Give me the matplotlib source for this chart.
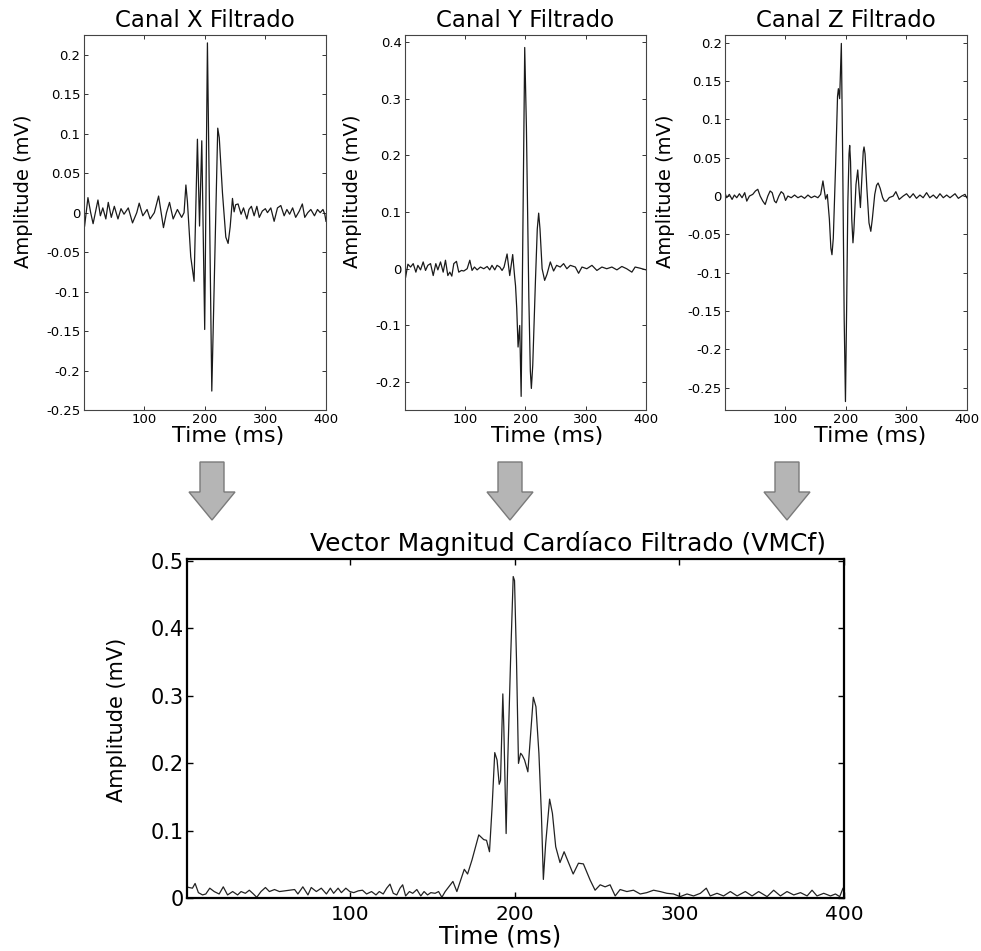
import matplotlib
matplotlib.use("Agg")
import matplotlib.pyplot as plt
import numpy as np
from matplotlib.patches import Polygon
from matplotlib.ticker import FuncFormatter, MultipleLocator

plt.rcParams["font.family"] = ["DejaVu Sans"]
plt.rcParams["axes.unicode_minus"] = False

CANAL_X = [
    (2, -0.017), (7.5, 0.019), (12, 0.0), (16, -0.014), (24, 0.016), (28, -0.004),
    (32, 0.006), (37, -0.008), (41, 0.013), (46, -0.006), (51, 0.008), (57, -0.008),
    (62, 0.005), (67, -0.002), (74, 0.006), (81, -0.013), (88, 0.0), (92, 0.012),
    (98, -0.004), (105, 0.004), (110, -0.008), (117, 0.0), (124, 0.021), (132, -0.019),
    (137, 0.0), (142, 0.013), (148, -0.008), (155, 0.004), (162, -0.006), (166, 0.0),
    (169, 0.035), (171.5, 0.014), (177, -0.056), (182.5, -0.087), (188, 0.093),
    (191.5, -0.017), (195.2, 0.091), (200, -0.148), (204.5, 0.215), (211.7, -0.226),
    (221.5, 0.107), (224, 0.095), (229.3, 0.025), (234.8, -0.031), (238.6, -0.039),
    (242, -0.018), (245.8, 0.018), (248.5, 0.001), (251, 0.01), (255, 0.011),
    (260, -0.002), (264, 0.006), (269.5, -0.008), (273, 0.004), (277, 0.008),
    (281.5, -0.004), (286, 0.008), (290, -0.006), (295, 0.002), (300, 0.005),
    (303.5, 0.0), (309, 0.006), (314.5, -0.011), (320, 0.006), (325.5, 0.009),
    (331, -0.004), (335.5, 0.004), (340, -0.002), (345, 0.006), (350, -0.006),
    (356, 0.002), (361, 0.011), (365, -0.006), (370, 0.0), (375, 0.004),
    (381, -0.004), (386, 0.004), (390.5, 0.0), (395, 0.004), (398, -0.002), (400, -0.011),
]

CANAL_Y = [
    (2, -0.015), (5.8, 0.008), (10.2, 0.003), (14.6, 0.009), (19, -0.006), (22.3, 0.006),
    (26.7, -0.002), (31.1, 0.012), (35, -0.003), (38.8, 0.006), (43.3, 0.009),
    (47.7, -0.012), (52, 0.009), (55.4, -0.002), (59.8, 0.012), (64.2, -0.006),
    (68, 0.015), (71.9, -0.012), (75.2, -0.006), (78.5, -0.013), (81.8, 0.009),
    (86.2, 0.013), (90, -0.006), (94.5, -0.003), (98.3, -0.004), (103.9, 0.0),
    (108.3, 0.015), (112, -0.003), (116, 0.003), (120.4, -0.002), (125.9, 0.003),
    (131.4, 0.0), (137, 0.004), (141.3, -0.002), (145, 0.006), (149.6, -0.002),
    (153.4, 0.006), (157.9, 0.003), (161.7, -0.003), (165, 0.003),
    (170, 0.026), (174.4, -0.012), (179.3, 0.025), (182.6, -0.015), (184, -0.03),
    (186, -0.07), (188.2, -0.138), (190.9, -0.1), (193.3, -0.225), (196, 0.05),
    (199.2, 0.39), (202, 0.25), (206, -0.05), (208.5, -0.18), (210.2, -0.211),
    (212.5, -0.17), (217, -0.02), (220, 0.07), (222.3, 0.098), (224.5, 0.07),
    (228, 0.0), (232.2, -0.0205), (236, -0.01), (241.6, 0.012), (247, -0.004),
    (252, 0.006), (258, 0.003), (263.6, 0.009), (269, 0.0), (274.7, 0.006),
    (283, 0.003), (288.4, -0.008), (294, 0.003), (302, 0.0), (310.5, 0.006),
    (318.7, -0.003), (327, 0.003), (335, 0.0), (343.5, 0.003), (351.8, -0.002),
    (360, 0.004), (368, 0.0), (376.6, -0.006), (382, 0.003), (390, 0.001), (400, -0.002),
]

CANAL_Z = [
    (1, 0.003), (3.3, -0.0022), (7.7, 0.0022), (12.2, -0.0044), (16, 0.0013),
    (19.9, -0.0022), (24.3, 0.003), (28.7, -0.0022), (33.1, 0.0044), (36.5, -0.0066),
    (40.9, 0.0), (46.4, 0.0022), (50.8, 0.0066), (54.7, 0.0088), (58.6, 0.0),
    (63, -0.0066), (66.9, -0.011), (71.3, 0.0), (75.1, 0.0066), (78.5, 0.0044),
    (82.3, -0.0066), (85.1, -0.0088), (89.5, 0.0), (93.4, 0.0057), (97.2, 0.003),
    (100.6, -0.0057), (104.4, 0.0), (110, -0.0022), (115.5, 0.0013), (121, -0.0022),
    (126.5, 0.0), (132, -0.003), (137.6, 0.0013), (143, -0.0022), (148.6, 0.0),
    (154, -0.0022), (158.6, 0.0022),
    (162.4, 0.0197), (166.8, -0.004), (169.6, 0.002), (173, -0.03), (175.5, -0.068),
    (177.3, -0.0765), (179.5, -0.055), (183.4, 0.042), (186.5, 0.13), (187.9, 0.14),
    (190, 0.127), (192.8, 0.199), (195, 0.05), (197.5, -0.16), (199.6, -0.268),
    (201.5, -0.15), (203.5, -0.01), (205.5, 0.055), (206.6, 0.066), (208, 0.045),
    (210, -0.03), (212, -0.061), (213.5, -0.045), (217, 0.015), (219.9, 0.034),
    (222, 0.01), (224.3, -0.015), (226.5, 0.02), (229, 0.058), (230.3, 0.064),
    (232, 0.055), (235, 0.01), (238.5, -0.035), (241.5, -0.046), (244, -0.03),
    (248, 0.002), (251, 0.014), (253.6, 0.017), (257, 0.01), (261, -0.002),
    (264, -0.0066), (267.4, -0.0066), (272, -0.002), (278.5, 0.0), (282.9, 0.0057),
    (288.4, -0.0044), (295, 0.0), (300.6, 0.003), (306, -0.0022), (311.6, 0.003),
    (317, -0.003), (322.7, 0.0013), (328, -0.0022), (333.7, 0.0044), (339, -0.0022),
    (344.8, 0.0013), (350.3, -0.003), (355.8, 0.003), (361.3, -0.0022), (366.9, 0.0013),
    (372.4, -0.0022), (380.7, 0.003), (386.2, -0.003), (391.7, 0.0), (397.2, 0.0022),
    (400, -0.0022),
]

# vector magnitude of the three filtered leads
VMCF = [
    (1, 0.017), (2.4, 0.016), (4.5, 0.015), (6.1, 0.022), (8.1, 0.0084), (10.6, 0.005),
    (12.6, 0.0064), (15, 0.015), (17.7, 0.01), (20.7, 0.0064), (23.2, 0.017),
    (25.8, 0.005), (28.9, 0.01), (31.9, 0.005), (34, 0.01), (36.6, 0.0074), (39, 0.012),
    (41.5, 0.0064), (43.5, 0.0015), (46.1, 0.01), (48.8, 0.016), (51.2, 0.01),
    (54.3, 0.013), (57.3, 0.01), (60.4, 0.011), (63.4, 0.012), (66.5, 0.013),
    (68.5, 0.0064), (71.5, 0.017), (74.6, 0.005), (76.6, 0.016), (79.7, 0.01),
    (82.7, 0.015), (85.8, 0.0064), (88.2, 0.015), (90.2, 0.0074), (92.9, 0.015),
    (94.9, 0.0084), (97.6, 0.015), (100, 0.01), (102.4, 0.0084), (105.1, 0.011),
    (107.7, 0.012), (110.2, 0.0064), (113.2, 0.01), (115.9, 0.005), (117.9, 0.01),
    (120.3, 0.0064), (122.4, 0.015), (124.4, 0.021), (126.4, 0.0074), (128.5, 0.005),
    (130.5, 0.015), (132.1, 0.02), (133.9, 0.0035), (136.2, 0.01), (138.2, 0.0074),
    (140.7, 0.013), (143.1, 0.0035), (145.1, 0.01), (147.2, 0.005), (149.2, 0.0084),
    (151.8, 0.0074), (153.9, 0.01), (155.9, 0.0015), (157.9, 0.01), (161, 0.02),
    (162.6, 0.025), (165, 0.01), (169.5, 0.043), (171.5, 0.036), (174.2, 0.057),
    (178.3, 0.094), (181.3, 0.087), (183, 0.086), (184.8, 0.069), (186.4, 0.136),
    (188, 0.216), (189.4, 0.205), (190.7, 0.169), (191.5, 0.175), (192.9, 0.303),
    (193.5, 0.254), (194.9, 0.096), (195.9, 0.205), (197.6, 0.353), (199.2, 0.477),
    (200, 0.471), (201.2, 0.353), (202.4, 0.2), (203.7, 0.215), (204.7, 0.212),
    (206.1, 0.205), (208.1, 0.1875), (209.8, 0.244), (211.4, 0.298), (213, 0.284),
    (214.8, 0.215), (216.3, 0.126), (217.5, 0.028), (218.9, 0.081), (221.3, 0.147),
    (223, 0.126), (225, 0.0765), (227.6, 0.053), (230.1, 0.069), (232.1, 0.057),
    (235.6, 0.036), (238.8, 0.052), (241.8, 0.051), (245.9, 0.027), (248.9, 0.012),
    (252, 0.02), (255, 0.017), (258, 0.02), (261.1, 0.0035), (264.1, 0.013),
    (268.2, 0.01), (272.2, 0.012), (276.3, 0.0064), (280.3, 0.0084), (284.4, 0.012),
    (288.4, 0.01), (292.5, 0.0074), (296.5, 0.0064), (300.6, 0.0025), (304.7, 0.0064),
    (308.7, 0.0035), (312.8, 0.0074), (316.4, 0.015), (318.8, 0.0035), (322.9, 0.0074),
    (326.9, 0.0035), (331, 0.01), (335.1, 0.0035), (340.1, 0.01), (344.2, 0.0035),
    (348.2, 0.01), (353.3, 0.0025), (357.3, 0.012), (361.4, 0.0035), (365.4, 0.01),
    (369.5, 0.005), (373.6, 0.0084), (377.6, 0.0035), (380.6, 0.012), (383.6, 0.0035),
    (387.7, 0.0074), (391.8, 0.0035), (394.8, 0.0064), (397.4, 0.0025), (399.4, 0.015),
    (400, 0.01),
]

CHANNELS = ["X", "Y", "Z"]
TRACES = [CANAL_X, CANAL_Y, CANAL_Z]
Y_LIMITS = [(-0.25, 0.225), (-0.249, 0.412), (-0.279, 0.21)]
Y_STEPS = [0.05, 0.1, 0.05]
X_TICKS = [100, 200, 300, 400]
VM_Y_TICKS = [0, 0.1, 0.2, 0.3, 0.4, 0.5]

W, H = 981, 951


def box(left, top, right, bottom):
    return [left / W, (H - bottom) / H, (right - left) / W, (bottom - top) / H]


def fmt(v, _):
    return f"{round(v, 4) + 0.0:g}"


fig = plt.figure(figsize=(W / 100, H / 100), dpi=100)

# grey down-arrows between the two rows (figure pixel space)
deco = fig.add_axes([0, 0, 1, 1])
deco.set_xlim(0, W)
deco.set_ylim(H, 0)
deco.axis("off")
for cx in (212, 510, 787):
    shape = [(cx - 12, 462), (cx + 12, 462), (cx + 12, 492), (cx + 23, 492),
             (cx, 520), (cx - 23, 492), (cx - 12, 492)]
    deco.add_patch(Polygon(shape, closed=True, facecolor="#b5b5b5",
                           edgecolor="#7a7a7a", lw=1.0))

top_boxes = [box(84, 35, 326, 410), box(405, 35, 646, 410), box(725.3, 35, 966.7, 410)]
ylabel_x = [-0.252, -0.216, -0.246]
xlabel_x = [0.597, 0.588, 0.602]

for ch, trace, ylim, step, rect, ylx, xlx in zip(CHANNELS, TRACES, Y_LIMITS, Y_STEPS,
                                                  top_boxes, ylabel_x, xlabel_x):
    ax = fig.add_axes(rect)
    t, v = np.array(trace).T
    ax.plot(t, v, color="#1a1a1a", lw=0.9)
    ax.set_xlim(1, 400)
    ax.set_ylim(*ylim)
    ax.set_xticks(X_TICKS)
    ax.yaxis.set_major_locator(MultipleLocator(step))
    ax.yaxis.set_major_formatter(FuncFormatter(fmt))
    ax.tick_params(direction="in", length=3, width=0.7, labelsize=9.5, pad=2.5,
                   top=True, right=True, color="#333333")
    for s in ax.spines.values():
        s.set_linewidth(0.8)
        s.set_color("#444444")
    ax.text(0.5, 1.039, f"Canal {ch} Filtrado", transform=ax.transAxes,
            ha="center", va="center", fontsize=16.5)
    ax.text(ylx, 0.584, "Amplitude (mV)", transform=ax.transAxes, rotation=90,
            ha="center", va="center", fontsize=14)
    ax.text(xlx, -0.069, "Time (ms)", transform=ax.transAxes,
            ha="center", va="center", fontsize=16)

ax = fig.add_axes(box(186.7, 559, 844, 898.3))
t, v = np.array(VMCF).T
ax.plot(t, v, color="#222222", lw=0.9)
ax.set_xlim(1, 400)
ax.set_ylim(0, 0.503)
ax.set_xticks(X_TICKS)
ax.set_yticks(VM_Y_TICKS)
ax.yaxis.set_major_formatter(FuncFormatter(fmt))
ax.tick_params(direction="in", length=4, width=1.0, top=True, right=True)
ax.tick_params(axis="y", labelsize=15, pad=2)
ax.tick_params(axis="x", labelsize=14.5, pad=5)
for s in ax.spines.values():
    s.set_linewidth(1.6)
ax.text(-0.106, 0.525, "Amplitude (mV)", transform=ax.transAxes, rotation=90,
        ha="center", va="center", fontsize=15)
ax.text(0.477, -0.114, "Time (ms)", transform=ax.transAxes,
        ha="center", va="center", fontsize=17.5)
fig.text(568.5 / W, (H - 543) / H, "Vector Magnitud Cardíaco Filtrado (VMCf)",
         ha="center", va="center", fontsize=18)

fig.savefig("out.png", dpi=100, facecolor="white")
